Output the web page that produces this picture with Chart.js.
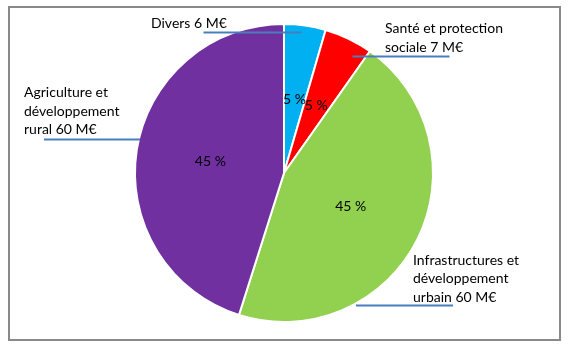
<!DOCTYPE html>
<html lang="fr">
<head>
<meta charset="utf-8">
<title>Répartition des dépenses</title>
<script src="https://cdn.jsdelivr.net/npm/chart.js@4/dist/chart.umd.min.js"></script>
<style>
  html, body { margin: 0; padding: 0; background: #ffffff; }
  canvas { display: block; }
</style>
</head>
<body>
<canvas id="pie" width="571" height="349"></canvas>
<script>
// Spending categories, clockwise from the top
const categories = [
  'Divers',
  'Santé et protection sociale',
  'Infrastructures et développement urbain',
  'Agriculture et développement rural'
];
// Amounts in M€
const amounts = [6, 7, 60, 60];
// Callout text for each category
const calloutText = [
  ['Divers 6 M€'],
  ['Santé et protection', 'sociale 7 M€'],
  ['Infrastructures et', 'développement', 'urbain 60 M€'],
  ['Agriculture et', 'développement', 'rural 60 M€']
];
const sliceColors = ['#00b0f0', '#ff0000', '#92d050', '#7030a0'];

// Callout placement, in pixels relative to the pie centre:
// text left edge, middle of each text line, leader line y and x extent.
const calloutLayout = [
  { tx: -133, ty: [-149.5], ly: -140.5, lx: [-80.5, 17.5] },
  { tx: 101, ty: [-144.5, -126], ly: -116.5, lx: [68.5, 165.5] },
  { tx: 129, ty: [87, 105.5, 124], ly: 132.5, lx: [72, 169] },
  { tx: -260, ty: [-80.5, -62, -43.5], ly: -33.5, lx: [-240, -144] }
];

const FONT = '14px Lato, "Liberation Sans", sans-serif';

const total = amounts.reduce((a, b) => a + b, 0);
const percentLabels = amounts.map(v => Math.round(v / total * 100) + ' %');

// Grey frame around the whole chart
const framePlugin = {
  id: 'frame',
  afterDraw(chart) {
    const ctx = chart.ctx;
    ctx.save();
    ctx.strokeStyle = '#898989';
    ctx.lineWidth = 2;
    ctx.strokeRect(9, 7, 551, 333);
    ctx.restore();
  }
};

// Percent labels inside the slices and callouts with leader lines
const labelPlugin = {
  id: 'sliceLabels',
  afterDatasetsDraw(chart) {
    const ctx = chart.ctx;
    const arcs = chart.getDatasetMeta(0).data;
    ctx.save();
    ctx.font = FONT;
    ctx.fillStyle = '#000000';
    ctx.textAlign = 'center';
    ctx.textBaseline = 'middle';
    arcs.forEach((arc, i) => {
      const p = arc.getCenterPoint();
      ctx.fillText(percentLabels[i], p.x, p.y);
    });

    const cx = arcs[0].x, cy = arcs[0].y;
    calloutLayout.forEach((c, i) => {
      ctx.strokeStyle = '#4a7ebb';
      ctx.lineWidth = 2;
      ctx.beginPath();
      ctx.moveTo(cx + c.lx[0], cy + c.ly);
      ctx.lineTo(cx + c.lx[1], cy + c.ly);
      ctx.stroke();
      ctx.textAlign = 'left';
      ctx.fillStyle = '#000000';
      calloutText[i].forEach((line, k) => {
        ctx.fillText(line, cx + c.tx, cy + c.ty[k]);
      });
    });
    ctx.restore();
  }
};

new Chart(document.getElementById('pie'), {
  type: 'pie',
  data: {
    labels: categories,
    datasets: [{
      data: amounts,
      backgroundColor: sliceColors,
      borderColor: '#ffffff',
      borderWidth: 2
    }]
  },
  options: {
    responsive: false,
    animation: false,
    layout: { padding: { left: 134, right: 137, top: 22, bottom: 25 } },
    plugins: {
      legend: { display: false },
      tooltip: { enabled: false }
    }
  },
  plugins: [labelPlugin, framePlugin]
});
</script>
</body>
</html>
